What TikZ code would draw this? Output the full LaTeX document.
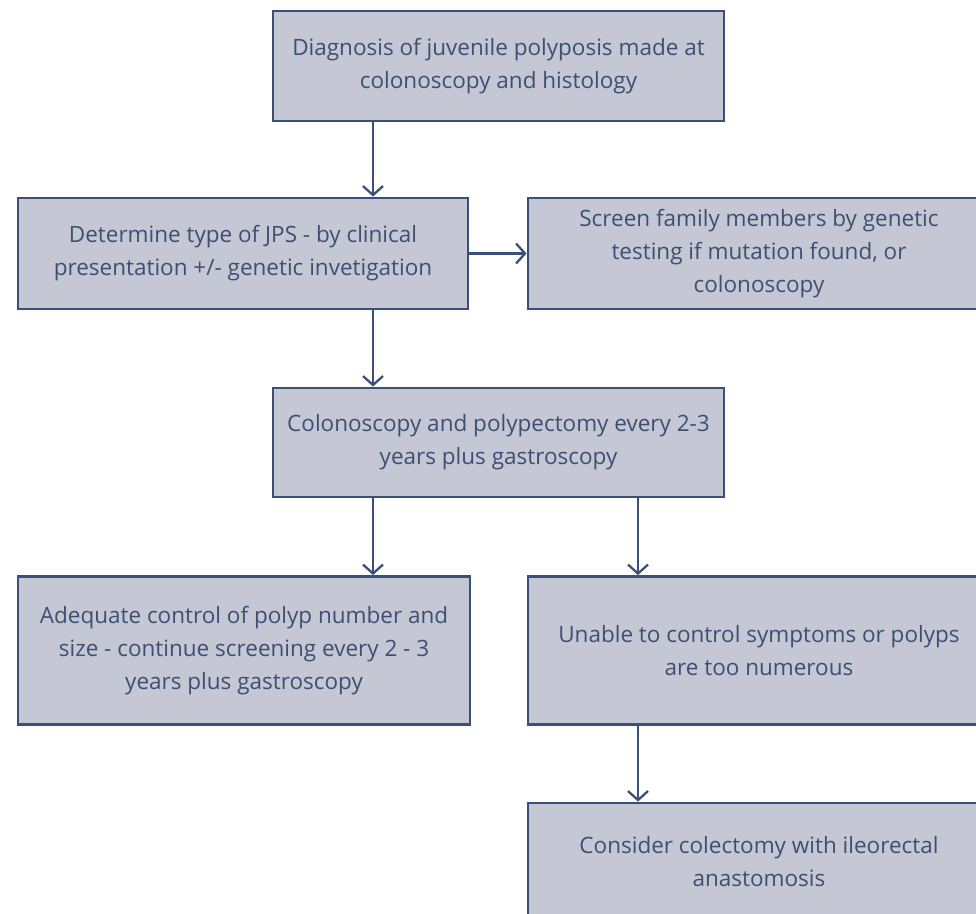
\documentclass[tikz,border=0pt]{standalone}
\usepackage{fontspec}
\setmainfont{Open Sans}
\usetikzlibrary{arrows.meta}
\definecolor{boxfill}{HTML}{C5C7D4}
\definecolor{boxline}{HTML}{3A5078}
\definecolor{boxtext}{HTML}{3E4F74}
\begin{document}
\begin{tikzpicture}[x=1pt,y=-1pt,
  flowbox/.style={draw=boxline, line width=2.8pt, fill=boxfill, text=boxtext,
    align=center, inner sep=0pt, font=\fontsize{22.5}{33}\selectfont},
  flowarrow/.style={draw=boxline, line width=2.3pt,
    -{Straight Barb[length=9pt,width=20pt,line width=2.3pt]}}]
\useasboundingbox (0,0) rectangle (976,913);
\clip (0,0) rectangle (976,913);
\node[flowbox, minimum width=451pt, minimum height=110pt] (diag) at (498.5,66)
  {Diagnosis of juvenile polyposis made at\\colonoscopy and histology};
\node[flowbox, minimum width=450pt, minimum height=111pt] (type) at (243,253.5)
  {Determine type of JPS - by clinical\\presentation +/- genetic invetigation};
\node[flowbox, minimum width=462pt, minimum height=111pt] (screen) at (759,253.5)
  {Screen family members by genetic\\testing if mutation found, or\\colonoscopy};
\node[flowbox, minimum width=451pt, minimum height=109pt] (colo) at (498.5,442.5)
  {Colonoscopy and polypectomy every 2-3\\years plus gastroscopy};
\node[flowbox, minimum width=452pt, minimum height=148pt] (adeq) at (244,650.5)
  {Adequate control of polyp number and\\size - continue screening every 2 - 3\\years plus gastroscopy};
\node[flowbox, minimum width=462pt, minimum height=148pt] (unable) at (759,650.5)
  {Unable to control symptoms or polyps\\are too numerous};
\node[flowbox, minimum width=462pt, minimum height=117pt] (colect) at (759,861.5)
  {Consider colectomy with ileorectal\\anastomosis};
\draw[flowarrow] (diag.south -| 373,0) -- (type.north -| 373,0);
\draw[flowarrow] (type.east) -- (screen.west);
\draw[flowarrow] (type.south -| 373,0) -- (colo.north -| 373,0);
\draw[flowarrow] (colo.south -| 373,0) -- (adeq.north -| 373,0);
\draw[flowarrow] (colo.south -| 638,0) -- (unable.north -| 638,0);
\draw[flowarrow] (unable.south -| 638,0) -- (colect.north -| 638,0);
\end{tikzpicture}
\end{document}
